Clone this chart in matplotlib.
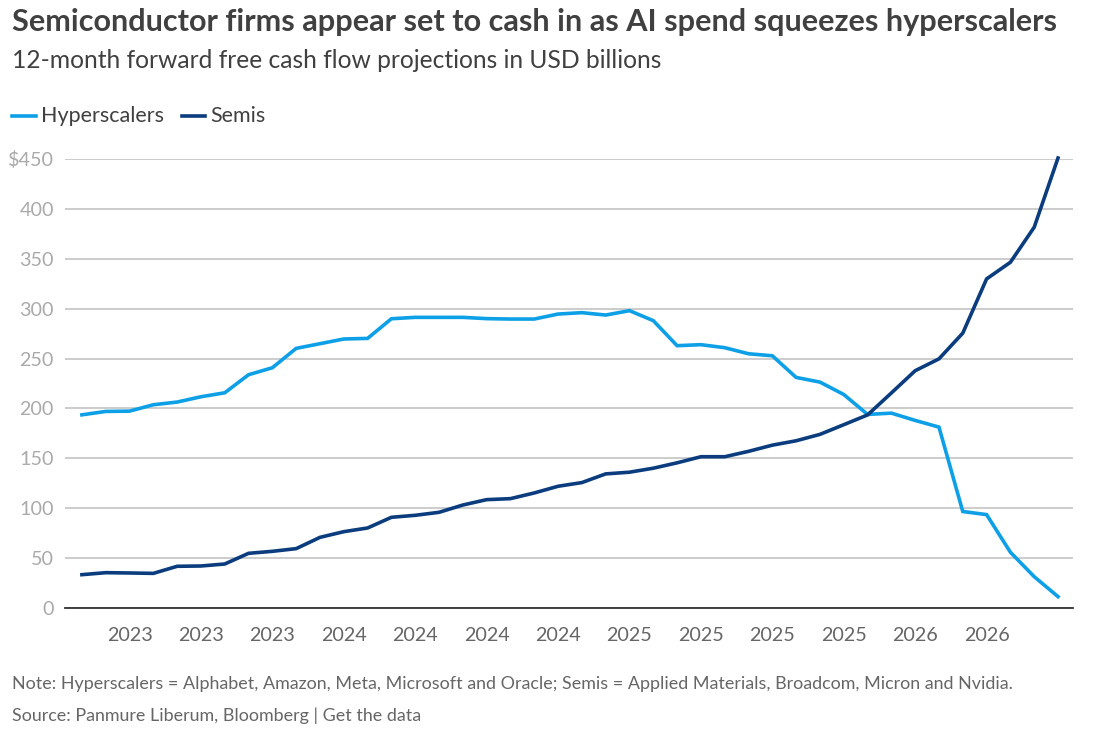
import matplotlib
matplotlib.use("Agg")
import matplotlib.pyplot as plt
from matplotlib.lines import Line2D

hyperscalers = [193.6, 197.0, 197.3, 203.7, 206.4, 211.7, 215.7, 233.8, 240.8, 260.2,
                264.9, 269.6, 270.2, 289.9, 291.3, 291.3, 291.3, 290.0, 289.6, 289.6,
                294.6, 296.0, 293.6, 298.0, 288.0, 262.9, 263.9, 260.9, 254.8, 252.8,
                231.1, 226.4, 214.0, 194.0, 195.3, 188.0, 181.3, 96.7, 93.6, 55.9,
                31.4, 11.4]
semis = [33.4, 35.4, 35.1, 34.7, 41.8, 42.1, 44.1, 54.8, 56.8, 59.5,
         70.8, 76.5, 80.2, 90.9, 92.9, 95.9, 103.2, 108.6, 109.6, 115.3,
         122.0, 125.7, 134.4, 136.1, 140.1, 145.5, 151.6, 151.6, 157.0, 163.2,
         167.6, 174.0, 183.7, 193.5, 215.5, 237.8, 249.7, 275.5, 329.8, 346.5,
         381.6, 451.0]
tick_idx = [2, 5, 8, 11, 14, 17, 20, 23, 26, 29, 32, 35, 38]
tick_labels = ["2023", "2023", "2023", "2024", "2024", "2024", "2024",
               "2025", "2025", "2025", "2025", "2026", "2026"]
y_ticks = [0, 50, 100, 150, 200, 250, 300, 350, 400, 450]
y_labels = ["0", "50", "100", "150", "200", "250", "300", "350", "400", "$450"]

C_HYP = "#0EA0E6"
C_SEM = "#0B3D7E"
FONT = "Lato"

W, H = 1099, 729
fig = plt.figure(figsize=(W / 100, H / 100), dpi=100)
fig.patch.set_facecolor("white")

ax = fig.add_axes([65 / W, (H - 608) / H, (1073 - 65) / W, (608 - 159) / H])
x = list(range(len(hyperscalers)))
ax.plot(x, hyperscalers, color=C_HYP, lw=2.6, clip_on=False, solid_joinstyle="miter", zorder=3)
ax.plot(x, semis, color=C_SEM, lw=2.6, clip_on=False, solid_joinstyle="miter", zorder=3)

ax.set_xlim(-0.71, 41.63)
ax.set_ylim(0, 450)
ax.set_yticks(y_ticks)
ax.set_yticklabels(y_labels)
ax.set_xticks(tick_idx)
ax.set_xticklabels(tick_labels)
ax.grid(axis="y", color="#c8c8c8", lw=1.3)
ax.set_axisbelow(True)
for s in ["top", "right", "left"]:
    ax.spines[s].set_visible(False)
ax.spines["bottom"].set_color("#333333")
ax.spines["bottom"].set_linewidth(1.3)
ax.tick_params(axis="both", length=0, labelsize=14.2, labelcolor="#aaaaaa")
ax.tick_params(axis="x", pad=14, labelcolor="#666666")
ax.tick_params(axis="y", pad=8)
for lab in ax.get_xticklabels() + ax.get_yticklabels():
    lab.set_fontfamily(FONT)

fig.text(12 / W, 1 - 22 / H, "Semiconductor firms appear set to cash in as AI spend squeezes hyperscalers",
         fontsize=22.1, fontweight="bold", color="#404040", family=FONT, va="center", ha="left")
fig.text(12 / W, 1 - 60 / H, "12-month forward free cash flow projections in USD billions",
         fontsize=17.7, fontweight="normal", color="#404040", family=FONT, va="center", ha="left")

# legend
ly = 1 - 116 / H
fig.add_artist(Line2D([12 / W, 36 / W], [ly, ly], color=C_HYP, lw=2.6, transform=fig.transFigure))
fig.text(41 / W, ly, "Hyperscalers", fontsize=15.5, color="#404040", family=FONT, va="center", ha="left")
fig.add_artist(Line2D([182 / W, 205 / W], [ly, ly], color=C_SEM, lw=2.6, transform=fig.transFigure))
fig.text(210 / W, ly, "Semis", fontsize=15.5, color="#404040", family=FONT, va="center", ha="left")

fig.text(12 / W, 1 - 684 / H,
         "Note: Hyperscalers = Alphabet, Amazon, Meta, Microsoft and Oracle; Semis = Applied Materials, Broadcom, Micron and Nvidia.",
         fontsize=12.9, color="#666666", family=FONT, va="center", ha="left")
fig.text(12 / W, 1 - 716 / H, "Source: Panmure Liberum, Bloomberg | Get the data",
         fontsize=12.9, color="#666666", family=FONT, va="center", ha="left")

fig.savefig("out.png", dpi=100, facecolor="white")
